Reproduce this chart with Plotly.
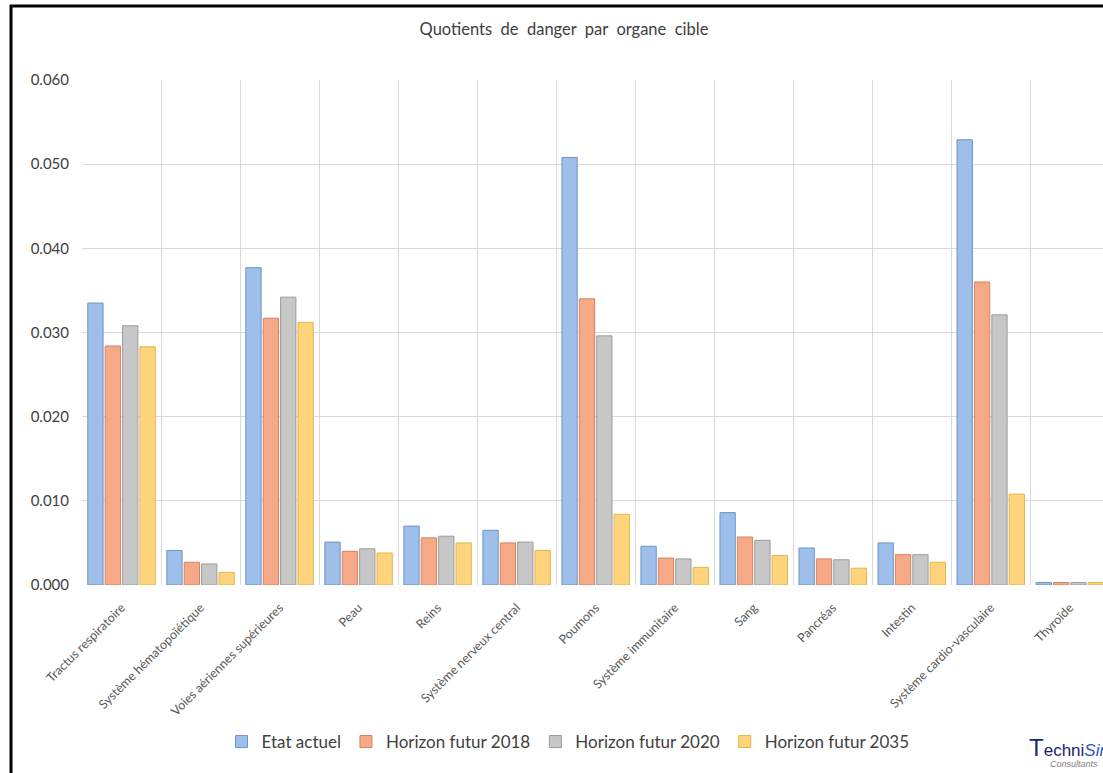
import plotly.graph_objects as go

# Organes cibles (axe des abscisses)
organes = [
    "Tractus respiratoire", "Système hématopoïétique", "Voies aériennes supérieures",
    "Peau", "Reins", "Système nerveux central", "Poumons", "Système immunitaire",
    "Sang", "Pancréas", "Intestin", "Système cardio-vasculaire", "Thyroïde",
]

# Quotients de danger par scénario
etat_actuel = [0.0335, 0.0041, 0.0377, 0.0051, 0.0070, 0.0065, 0.0508, 0.0046,
               0.0086, 0.0044, 0.0050, 0.0529, 0.0003]
horizon_2018 = [0.0284, 0.0027, 0.0317, 0.0040, 0.0056, 0.0050, 0.0340, 0.0032,
                0.0057, 0.0031, 0.0036, 0.0360, 0.0003]
horizon_2020 = [0.0308, 0.0025, 0.0342, 0.0043, 0.0058, 0.0051, 0.0296, 0.0031,
                0.0053, 0.0030, 0.0036, 0.0321, 0.0003]
horizon_2035 = [0.0283, 0.0015, 0.0312, 0.0038, 0.0050, 0.0041, 0.0084, 0.0021,
                0.0035, 0.0020, 0.0027, 0.0108, 0.0003]

series = [
    ("Etat actuel", etat_actuel, "#9dbfe9", "#6f93c6"),
    ("Horizon futur 2018", horizon_2018, "#f5a987", "#d7825f"),
    ("Horizon futur 2020", horizon_2020, "#c7c7c7", "#9c9c9c"),
    ("Horizon futur 2035", horizon_2035, "#ffd47c", "#e3b54c"),
]

W, H = 1103, 773
L, R, T, B = 82, 0, 80, 188
PW, PH = W - L - R, H - T - B


def px(x):
    return (x - L) / PW


def py(y):
    return (H - B - y) / PH


fig = go.Figure()
for name, vals, fill, edge in series:
    fig.add_trace(go.Bar(
        x=organes, y=vals, name=name,
        marker=dict(color=fill, line=dict(color=edge, width=1)),
    ))

font = "Lato, 'Open Sans', sans-serif"

fig.update_layout(
    width=W, height=H,
    margin=dict(l=L, r=R, t=T, b=B, pad=0),
    paper_bgcolor="white", plot_bgcolor="white",
    barmode="group", bargap=0.12, bargroupgap=0.12,
    font=dict(family=font, color="#595959"),
    title=dict(
        text="Quotients  de  danger  par  organe  cible",
        x=564 / W, xref="container", xanchor="center",
        y=1 - 29 / H, yref="container", yanchor="middle",
        font=dict(size=16.5, color="#404040", family=font),
    ),
    legend=dict(
        orientation="h", x=px(568), xanchor="center",
        y=py(742), yanchor="middle",
        font=dict(size=17, color="#404040", family=font),
        itemwidth=30, traceorder="normal",
    ),
    showlegend=True,
)

fig.update_xaxes(
    type="category", range=[-0.5, 12.42],
    tickson="boundaries", showgrid=True, gridcolor="#d9d9d9", gridwidth=1,
    tickangle=-45, ticks="", tickfont=dict(size=12.5, color="#595959"),
    ticklabelstandoff=12, showline=False, zeroline=False,
)
fig.update_yaxes(
    range=[0, 0.06], dtick=0.01, tickformat=".3f",
    showgrid=True, gridcolor="#d9d9d9", gridwidth=1,
    zeroline=False, showline=False, ticks="",
    tickfont=dict(size=15, color="#404040"), ticklabelstandoff=12,
)

# Cadre noir du graphique (bords gauche et haut)
fig.add_shape(type="line", xref="paper", yref="paper",
              x0=px(11), x1=px(11), y0=py(5), y1=py(790),
              line=dict(color="black", width=3), layer="above")
fig.add_shape(type="line", xref="paper", yref="paper",
              x0=px(10), x1=px(1120), y0=py(6), y1=py(6),
              line=dict(color="black", width=3), layer="above")

# Logo TechniSim
fig.add_annotation(
    xref="paper", yref="paper", x=px(1027), y=py(747),
    xanchor="left", yanchor="middle", showarrow=False,
    text="<span style='font-size:24px'>T</span>echni<i><span style='color:#2f55c4'>Sim</span></i>",
    font=dict(size=17, color="#1d2378", family="'Liberation Sans', sans-serif"),
)
fig.add_annotation(
    xref="paper", yref="paper", x=px(1048), y=py(764),
    xanchor="left", yanchor="middle", showarrow=False,
    text="<i>Consultants</i>",
    font=dict(size=9, color="#7f7f7f", family="'Liberation Sans', sans-serif"),
)

fig.write_html("out.html")
